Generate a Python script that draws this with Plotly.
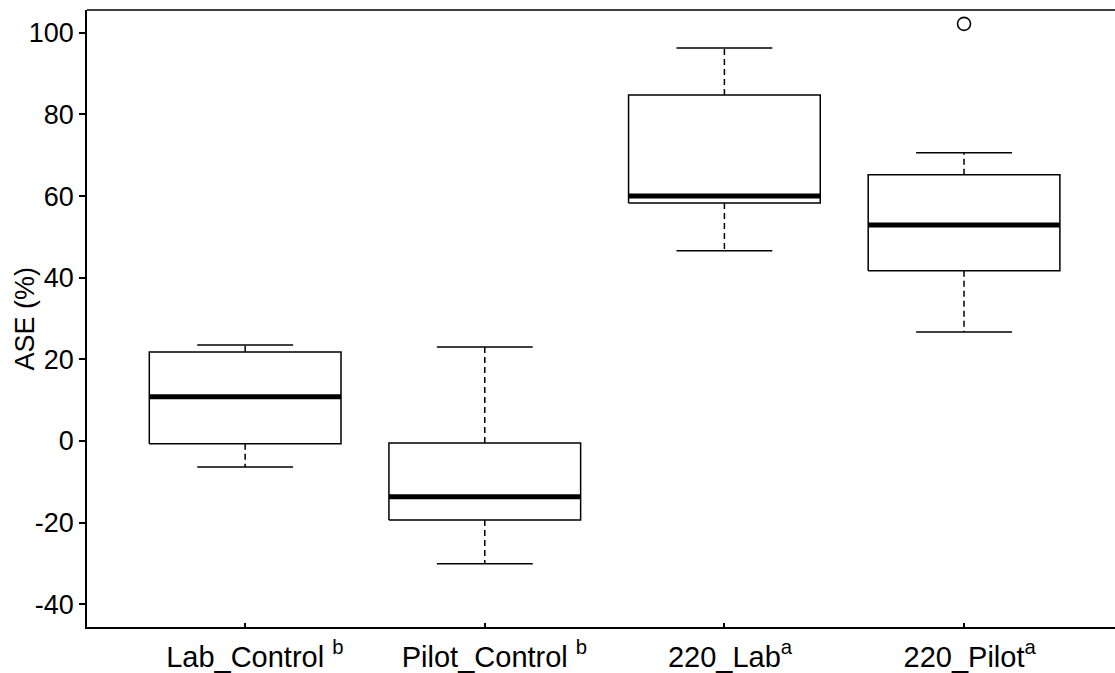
import plotly.graph_objects as go

categories = ["Lab_Control", "Pilot_Control", "220_Lab", "220_Pilot"]
sig_letters = ["b", "b", "a", "a"]
whisker_low = [-6.4, -30.1, 46.6, 26.7]
q1 = [-0.7, -19.4, 58.3, 41.7]
median = [10.8, -13.7, 60.0, 52.9]
q3 = [21.8, -0.5, 84.8, 65.2]
whisker_high = [23.5, 23.0, 96.3, 70.6]
outlier_group = [4]
outlier_value = [102.2]
y_ticks = [-40, -20, 0, 20, 40, 60, 80, 100]
y_ticktext = ["-40", "-20", "0", "20", "40", "60", "80", "100"]

positions = [1, 2, 3, 4]
box_half = 0.4
cap_half = 0.2

fig = go.Figure()
line_w = 1.5
for i, p in enumerate(positions):
    fig.add_trace(go.Scatter(x=[p, p, None, p, p], y=[q3[i], whisker_high[i], None, q1[i], whisker_low[i]],
                             mode="lines", line=dict(color="black", width=line_w, dash="6px,4px"),
                             hoverinfo="skip", showlegend=False))
    fig.add_trace(go.Scatter(x=[p - cap_half, p + cap_half, None, p - cap_half, p + cap_half],
                             y=[whisker_high[i], whisker_high[i], None, whisker_low[i], whisker_low[i]],
                             mode="lines", line=dict(color="black", width=line_w),
                             hoverinfo="skip", showlegend=False))
    fig.add_trace(go.Scatter(x=[p - box_half, p + box_half, p + box_half, p - box_half, p - box_half],
                             y=[q1[i], q1[i], q3[i], q3[i], q1[i]],
                             mode="lines", fill="toself", fillcolor="white",
                             line=dict(color="black", width=line_w),
                             hoverinfo="skip", showlegend=False))
    fig.add_trace(go.Scatter(x=[p - box_half, p + box_half], y=[median[i], median[i]],
                             mode="lines", line=dict(color="black", width=5),
                             hoverinfo="skip", showlegend=False))

fig.add_trace(go.Scatter(x=outlier_group, y=outlier_value, mode="markers",
                         marker=dict(symbol="circle-open", size=13, color="black", line=dict(width=1.6)),
                         hoverinfo="skip", showlegend=False))

ticktext = []
for c, s in zip(categories, sig_letters):
    sep = "" if c.startswith("220") else " "
    pad = f"<span style='color:rgba(0,0,0,0)'><sup>{s}</sup>{sep}</span>"
    ticktext.append(f"{pad}{c}{sep}<sup>{s}</sup>")

font_family = "Liberation Sans, Arial, sans-serif"
fig.update_layout(
    width=1115, height=673,
    margin=dict(l=87, r=0, t=10, b=46),
    plot_bgcolor="white", paper_bgcolor="white",
    font=dict(family=font_family, size=27, color="black"),
    xaxis=dict(range=[0.34, 4.63], tickvals=positions, ticktext=ticktext,
               showline=True, linecolor="black", linewidth=1.5, mirror=False,
               ticks="inside", ticklen=4, tickwidth=1.5, tickcolor="black",
               showgrid=False, zeroline=False, ticklabelstandoff=3,
               tickfont=dict(size=29)),
    yaxis=dict(range=[-45.6, 105.6], tickvals=y_ticks, ticktext=y_ticktext,
               showline=True, linecolor="black", linewidth=1.5, mirror=False,
               ticks="outside", ticklen=6, tickwidth=1.5, tickcolor="black",
               showgrid=False, zeroline=False,
               tickfont=dict(size=27)),
    shapes=[dict(type="line", xref="paper", yref="paper", x0=0, x1=1, y0=1, y1=1,
                 line=dict(color="black", width=1.5))],
    annotations=[dict(text="ASE (%)", xref="paper", yref="paper", x=0, y=0.5,
                      xanchor="center", yanchor="middle", xshift=-63, textangle=-90,
                      showarrow=False, font=dict(size=27))],
)

fig.write_html("out.html")
